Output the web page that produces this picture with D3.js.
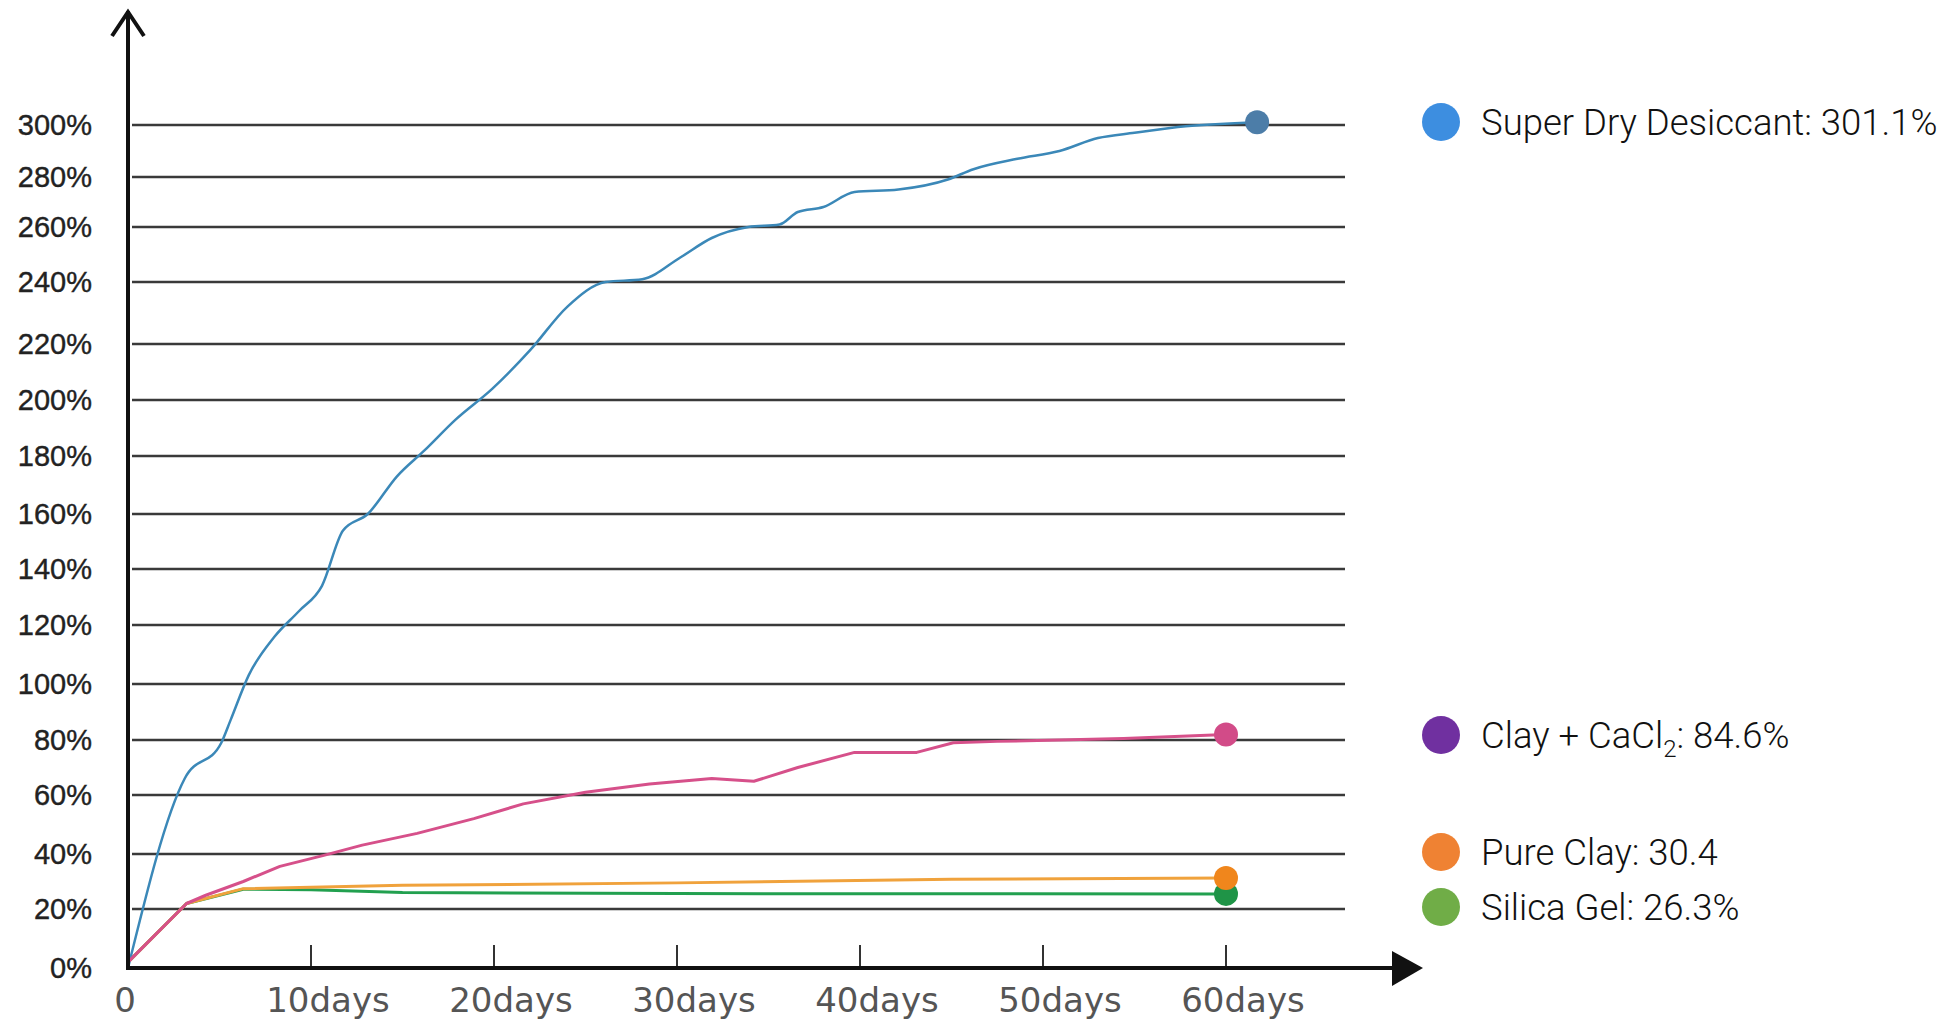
<!DOCTYPE html>
<html>
<head>
<meta charset="utf-8">
<script src="https://cdn.jsdelivr.net/npm/d3@7"></script>
<style>
  body { margin: 0; background: #fff; }
  svg { display: block; }
</style>
</head>
<body>
<svg width="1956" height="1023"></svg>
<script>
// tick values / labels
const yTicks = [0, 20, 40, 60, 80, 100, 120, 140, 160, 180, 200, 220, 240, 260, 280, 300];
const xTicks = [10, 20, 30, 40, 50, 60];
const xTickLabels = ["10days", "20days", "30days", "40days", "50days", "60days"];

// Super Dry Desiccant
const superDryDays = [0, 3.1, 5.1, 5.6, 6.6, 8, 9.35, 10.6, 11.75, 13.1, 14.7, 16.2, 17.9, 19.9, 22, 24, 26.1, 28.1, 30.2, 31.9, 33.9, 35.6, 36.6, 38, 39.7, 42.1, 44.8, 46.2, 48.6, 50.9, 53, 55, 57.8, 61.7];
const superDryVals = [0, 66, 79, 87, 103, 116, 125, 134, 154, 160, 173, 182, 193, 204, 218, 232, 240, 241, 249, 256, 260, 261, 266, 268, 274, 275, 279, 283, 287, 290, 295, 297, 299.5, 301.1];

// Clay + CaCl2
const clayCaDays = [0, 3.2, 4.25, 6.3, 8.3, 10.7, 12.8, 15.8, 18.9, 21.6, 25, 28.5, 31.9, 34.2, 36.6, 39.7, 43.1, 45.1, 47.5, 54.4, 60];
const clayCaVals = [2, 22, 25, 30, 35.5, 39.5, 43, 47, 52, 57, 61, 64, 66, 65, 70, 75.5, 75.5, 79, 79.5, 80.5, 82];

// Pure Clay
const pureClayDays = [0, 3.2, 6.3, 15, 30, 45, 60];
const pureClayVals = [2, 22, 27.4, 28.6, 29.5, 30.8, 31.3];

// Silica Gel
const silicaDays = [0, 3.2, 6.3, 10, 15, 30, 60];
const silicaVals = [2, 22, 27.2, 27, 26, 25.6, 25.5];

const legendNames = ["Super Dry Desiccant: 301.1%", "Clay + CaCl", "Pure Clay: 30.4", "Silica Gel: 26.3%"];
const legendColors = ["#3d8ee0", "#7030a0", "#ef8233", "#70ad47"];

// layout: the hand drawn grid is not evenly spaced, so the scale is piecewise
const gridY = [968, 909, 854, 795, 740, 684, 625, 569, 514, 456, 400, 344, 282, 227, 177, 125];
const x0 = 128;

const svg = d3.select("svg");

const x = d3.scaleLinear().domain([0, 60]).range([x0, 1226]);
const y = d3.scaleLinear().domain(yTicks).range(gridY);

// grid lines
svg.append("g")
  .selectAll("line")
  .data(yTicks.slice(1))
  .join("line")
    .attr("x1", x0 + 4)
    .attr("x2", 1345)
    .attr("y1", d => y(d))
    .attr("y2", d => y(d))
    .attr("stroke", "#3a3a3a")
    .attr("stroke-width", 2.5);

// y labels
svg.append("g")
  .selectAll("text")
  .data(yTicks)
  .join("text")
    .attr("x", 92)
    .attr("y", d => y(d) + 10)
    .attr("text-anchor", "end")
    .attr("font-family", "Liberation Sans, Arial, sans-serif")
    .attr("font-size", 29)
    .attr("fill", "#222")
    .attr("stroke", "#222")
    .attr("stroke-width", 0.4)
    .text(d => d + "%");

// x ticks + labels
const xt = svg.append("g");
xt.selectAll("line")
  .data(xTicks)
  .join("line")
    .attr("x1", d => x(d)).attr("x2", d => x(d))
    .attr("y1", 945).attr("y2", 968)
    .attr("stroke", "#333")
    .attr("stroke-width", 2);
xt.selectAll("text")
  .data(xTicks)
  .join("text")
    .attr("x", d => x(d) + 17)
    .attr("y", 1012)
    .attr("text-anchor", "middle")
    .attr("font-family", "DejaVu Sans, sans-serif")
    .attr("font-size", 34)
    .attr("fill", "#555")
    .text((d, i) => xTickLabels[i]);
xt.append("text")
  .attr("x", 125).attr("y", 1012)
  .attr("text-anchor", "middle")
  .attr("font-family", "DejaVu Sans, sans-serif")
  .attr("font-size", 34)
  .attr("fill", "#555")
  .text("0");

// series lines
const smooth = d3.line()
  .x(d => x(d[0]))
  .y(d => y(d[1]))
  .curve(d3.curveMonotoneX);
const straight = d3.line()
  .x(d => x(d[0]))
  .y(d => y(d[1]));

const series = [
  {days: silicaDays, vals: silicaVals, color: "#22a04f", width: 3, marker: "#1f9447", gen: straight},
  {days: pureClayDays, vals: pureClayVals, color: "#f0a23c", width: 3, marker: "#f0861c", gen: straight},
  {days: superDryDays, vals: superDryVals, color: "#3b88b8", width: 2.5, marker: "#4c7da8", gen: smooth},
  {days: clayCaDays, vals: clayCaVals, color: "#d6508a", width: 3, marker: "#d24b88", gen: straight}
];

svg.append("g")
  .selectAll("path")
  .data(series)
  .join("path")
    .attr("d", s => s.gen(s.days.map((d, i) => [d, s.vals[i]])))
    .attr("fill", "none")
    .attr("stroke", s => s.color)
    .attr("stroke-width", s => s.width)
    .attr("stroke-linejoin", "round");

svg.append("g")
  .selectAll("circle")
  .data(series)
  .join("circle")
    .attr("cx", s => x(s.days[s.days.length - 1]))
    .attr("cy", s => y(s.vals[s.vals.length - 1]))
    .attr("r", 12)
    .attr("fill", s => s.marker);

// axes with arrows
const ax = svg.append("g").attr("stroke", "#111").attr("fill", "none");
ax.append("line")
  .attr("x1", x0).attr("x2", x0)
  .attr("y1", 970).attr("y2", 11)
  .attr("stroke-width", 4);
ax.append("path")
  .attr("d", `M${x0 - 16},36 L${x0},12 L${x0 + 16},36`)
  .attr("stroke-width", 4)
  .attr("stroke-linejoin", "miter");
ax.append("line")
  .attr("x1", x0 - 2).attr("x2", 1395)
  .attr("y1", 968).attr("y2", 968)
  .attr("stroke-width", 4);
svg.append("path")
  .attr("d", "M1392,951 L1423,968 L1392,986 Z")
  .attr("fill", "#111");

// legend
const legendY = [122, 735, 852, 907];
const lg = svg.append("g")
  .selectAll("g")
  .data(legendNames)
  .join("g")
    .attr("transform", (d, i) => `translate(1441,${legendY[i]})`);
lg.append("circle")
  .attr("r", 19)
  .attr("fill", (d, i) => legendColors[i]);
const lt = lg.append("text")
  .attr("x", 40)
  .attr("y", 13)
  .attr("font-family", "Roboto, sans-serif")
  .attr("font-weight", 300)
  .attr("font-size", 36.5)
  .attr("fill", "#111");
lt.append("tspan").text(d => d);
lt.filter((d, i) => i === 1).append("tspan")
  .attr("font-size", 24)
  .attr("dy", 9)
  .text("2");
lt.filter((d, i) => i === 1).append("tspan")
  .attr("dy", -9)
  .text(": 84.6%");
</script>
</body>
</html>
